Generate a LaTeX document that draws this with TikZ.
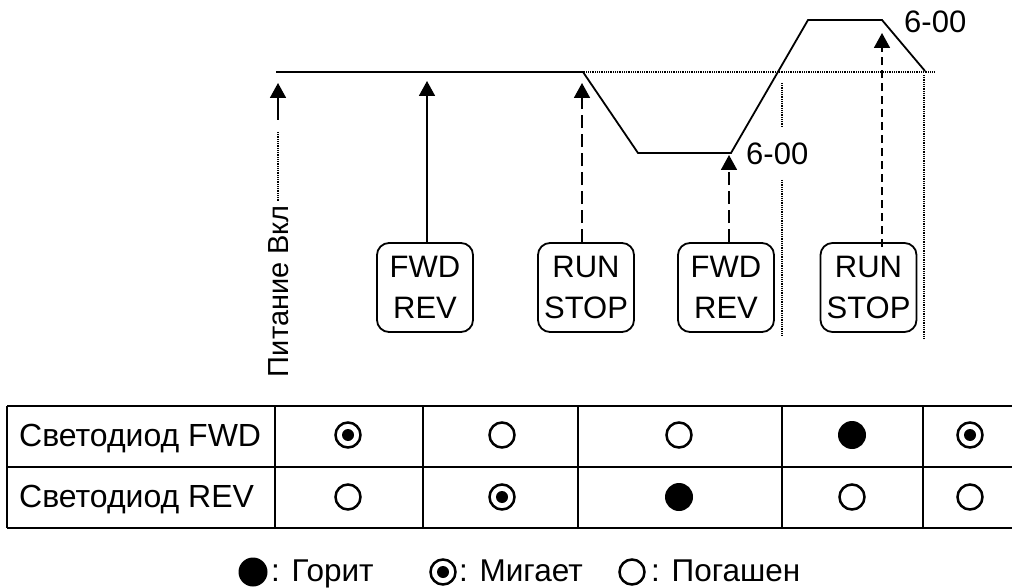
\documentclass[tikz,border=0pt]{standalone}
\usepackage{fontspec}
\setmainfont{Liberation Sans}
\usetikzlibrary{arrows.meta}
\begin{document}
\begin{tikzpicture}[x=1pt,y=-1pt,
  txt/.style={inner sep=0pt, font=\fontsize{31.5}{40}\selectfont},
  btn/.style={draw, line width=1.8pt, rounded corners=12pt, minimum width=96pt, minimum height=89pt, inner sep=0pt, align=center, font=\fontsize{31}{41}\selectfont},
  arr/.style={line width=1.8pt, -{Triangle[width=16pt,length=15pt]}},
  dsh/.style={dash pattern=on 13pt off 6pt},
  dshs/.style={dash pattern=on 8pt off 5pt},
  fine/.style={line width=1.5pt, dash pattern=on 1pt off 0.8pt},
  trace/.style={line width=1.8pt, line join=miter},
  grid/.style={line width=1.4pt},
  ledoff/.style={circle, draw, line width=2.5pt, minimum size=25pt, inner sep=0pt},
  ledon/.style={circle, fill=black, minimum size=28pt, inner sep=0pt},
  ledblink/.style={circle, draw, line width=2.5pt, minimum size=25pt, inner sep=0pt,
     path picture={\fill (path picture bounding box.center) circle (6pt);}},
]
\useasboundingbox (0,0) rectangle (1012,588);

% trajectory
\coordinate (p0) at (276,72);
\coordinate (p1) at (583,72);
\coordinate (p2) at (638,153);
\coordinate (p3) at (731,153);
\coordinate (p4) at (808,20);
\coordinate (p5) at (882,20);
\coordinate (p6) at (925,71);
\coordinate (r0) at (480,72);
\coordinate (r1) at (935,72);
\draw[fine] (r0) -- (r1);
\draw[trace] (p0) -- (p1) -- (p2) -- (p3) -- (p4) -- (p5) -- (p6);

% vertical reference lines
\coordinate (v1a) at (782,83);
\coordinate (v1b) at (782,127);
\coordinate (v1c) at (782,180);
\coordinate (v1d) at (782,335);
\coordinate (v2a) at (924,75);
\coordinate (v2b) at (924,338);
\draw[fine] (v1a) -- (v1b);
\draw[fine] (v1c) -- (v1d);
\draw[fine] (v2a) -- (v2b);

% buttons
\node[btn] (b1) at (425,287.5) {FWD\\REV};
\node[btn] (b2) at (586,287.5) {RUN\\STOP};
\node[btn] (b3) at (726,287.5) {FWD\\REV};
\node[btn] (b4) at (868.5,287.5) {RUN\\STOP};

% arrow tips
\coordinate (t1) at (427,81);
\coordinate (t2) at (582,83);
\coordinate (t3) at (729,155);
\coordinate (t4) at (882,33);
\draw[arr] (b1.north -| t1) -- (t1);
\draw[arr, dsh] (b2.north -| t2) -- (t2);
\draw[arr, dsh] (b3.north -| t3) -- (t3);
\draw[arr, dshs] ([yshift=-5pt]b4.north -| t4) -- (t4);

% power on
\coordinate (pw0) at (278,83);
\coordinate (pw1) at (278,120);
\coordinate (pw2) at (278,132);
\coordinate (pw3) at (278,201);
\draw[arr] (pw1) -- (pw0);
\draw[fine] (pw2) -- (pw3);
\node[txt, font=\fontsize{29}{36}\selectfont, rotate=90, anchor=base east] (pwr) at (288,205) {Питание Вкл};

% labels 6-00
\node[txt, font=\fontsize{31}{36}\selectfont, anchor=base west] (l1) at (746,165) {6-00};
\node[txt, font=\fontsize{31}{36}\selectfont, anchor=base west] (l2) at (904,33) {6-00};

% table
\draw[grid] (7,406) -- (1012,406);
\draw[grid] (7,467) -- (1012,467);
\draw[grid] (7,528) -- (1012,528);
\foreach \x in {7,275,423,578,782,923} \draw[grid] (\x,406) -- (\x,528);
\node[txt, font=\fontsize{32}{40}\selectfont, anchor=base west] (rf) at (19,446) {Светодиод FWD};
\node[txt, font=\fontsize{32}{40}\selectfont, anchor=base west] (rr) at (19,507) {Светодиод REV};

\node[ledblink] (f1) at (348,435) {};
\node[ledoff]   (f2) at (502,435) {};
\node[ledoff]   (f3) at (679,435) {};
\node[ledon]    (f4) at (852,435) {};
\node[ledblink] (f5) at (970,435) {};
\node[ledoff]   (r1n) at (348,497) {};
\node[ledblink] (r2n) at (502,497) {};
\node[ledon]    (r3n) at (679,497) {};
\node[ledoff]   (r4n) at (852,497) {};
\node[ledoff]   (r5n) at (970,497) {};

% legend
\node[ledon, minimum size=29pt] (g1) at (253,572) {};
\node[txt, anchor=base west] (g1t) at (271,581) {: Горит};
\node[ledblink] (g2) at (443,572) {};
\node[txt, anchor=base west] (g2t) at (459,581) {: Мигает};
\node[ledoff] (g3) at (632,572) {};
\node[txt, anchor=base west] (g3t) at (651,581) {: Погашен};
\end{tikzpicture}
\end{document}
